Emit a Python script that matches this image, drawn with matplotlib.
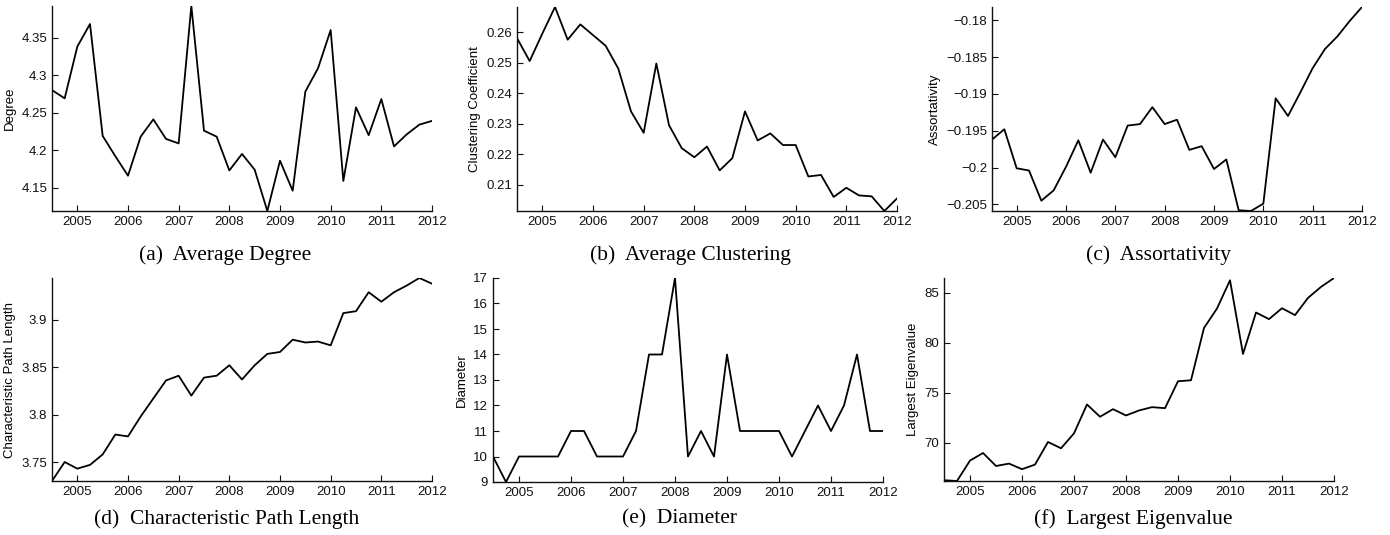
import numpy as np
import matplotlib
matplotlib.use('Agg')
import matplotlib.pyplot as plt
from matplotlib.ticker import FuncFormatter

# quarterly snapshots, mid 2004 to 2012
quarters = [2004.5, 2004.75, 2005.0, 2005.25, 2005.5, 2005.75, 2006.0, 2006.25,
            2006.5, 2006.75, 2007.0, 2007.25, 2007.5, 2007.75, 2008.0, 2008.25,
            2008.5, 2008.75, 2009.0, 2009.25, 2009.5, 2009.75, 2010.0, 2010.25,
            2010.5, 2010.75, 2011.0, 2011.25, 2011.5, 2011.75, 2012.0]
year_ticks = [2005, 2006, 2007, 2008, 2009, 2010, 2011, 2012]

degree = [4.280, 4.269, 4.338, 4.368, 4.219, 4.192, 4.166, 4.218,
          4.241, 4.215, 4.209, 4.392, 4.226, 4.218, 4.173, 4.195,
          4.174, 4.119, 4.186, 4.146, 4.278, 4.309, 4.360, 4.159,
          4.257, 4.220, 4.268, 4.205, 4.221, 4.234, 4.239]

clustering = [0.2580, 0.2505, 0.2595, 0.2682, 0.2575, 0.2625, 0.2590, 0.2555,
              0.2480, 0.2340, 0.2270, 0.2497, 0.2295, 0.2220, 0.2190, 0.2225,
              0.2147, 0.2187, 0.2340, 0.2245, 0.2268, 0.2230, 0.2230, 0.2127,
              0.2132, 0.2060, 0.2090, 0.2065, 0.2062, 0.2014, 0.2055]

assortativity = [-0.1962, -0.1948, -0.2001, -0.2004, -0.2045, -0.2031, -0.1999, -0.1963,
                 -0.2007, -0.1962, -0.1986, -0.1943, -0.1941, -0.1918, -0.1941, -0.1935,
                 -0.1976, -0.1971, -0.2002, -0.1989, -0.2058, -0.2059, -0.2049, -0.1906,
                 -0.1930, -0.1898, -0.1865, -0.1839, -0.1822, -0.1801, -0.1782]

path_length = [3.730, 3.750, 3.743, 3.747, 3.758, 3.779, 3.777, 3.798,
               3.817, 3.836, 3.841, 3.820, 3.839, 3.841, 3.852, 3.837,
               3.852, 3.864, 3.866, 3.879, 3.876, 3.877, 3.873, 3.907,
               3.909, 3.929, 3.919, 3.929, 3.936, 3.944, 3.938]

diameter = [10, 9, 10, 10, 10, 10, 11, 11,
            10, 10, 10, 11, 14, 14, 17, 10,
            11, 10, 14, 11, 11, 11, 11, 10,
            11, 12, 11, 12, 14, 11, 11]

eigenvalue = [66.28, 66.20, 68.24, 69.00, 67.70, 67.94, 67.38, 67.84,
              70.10, 69.47, 70.96, 73.85, 72.62, 73.38, 72.75, 73.25,
              73.58, 73.48, 76.17, 76.27, 81.50, 83.44, 86.26, 78.90,
              83.04, 82.38, 83.47, 82.78, 84.50, 85.60, 86.49]

panels = [
    (degree, 'Degree', '(a)', 'Average Degree', [4.15, 4.2, 4.25, 4.3, 4.35]),
    (clustering, 'Clustering Coefficient', '(b)', 'Average Clustering',
     [0.21, 0.22, 0.23, 0.24, 0.25, 0.26]),
    (assortativity, 'Assortativity', '(c)', 'Assortativity',
     [-0.205, -0.2, -0.195, -0.19, -0.185, -0.18]),
    (path_length, 'Characteristic Path Length', '(d)', 'Characteristic Path Length',
     [3.75, 3.8, 3.85, 3.9]),
    (diameter, 'Diameter', '(e)', 'Diameter', [9, 10, 11, 12, 13, 14, 15, 16, 17]),
    (eigenvalue, 'Largest Eigenvalue', '(f)', 'Largest Eigenvalue', [70, 75, 80, 85]),
]

# axes boxes in pixels: left, right, top, bottom
W, H = 1390, 535
boxes = [
    (52, 432, 6, 211), (517, 897, 7, 211), (992, 1362, 7, 211),
    (52, 432, 278, 481), (493, 883, 278, 482), (944, 1334, 278, 481),
]
caption_pos = [(225, 255), (690, 255), (1158, 255), (227, 519), (680, 519), (1133, 519)]

plt.rcParams['font.family'] = 'Liberation Sans'

fig = plt.figure(figsize=(W / 100, H / 100), dpi=100)


def fmt(v, pos):
    s = '%g' % round(v, 6)
    return s.replace('-', '\u2212')


for (vals, ylab, tag, cap, yt), (l, r, t, b), (cx, cy) in zip(panels, boxes, caption_pos):
    ax = fig.add_axes([l / W, 1 - b / H, (r - l) / W, (b - t) / H])
    ax.plot(quarters, vals, color='black', lw=1.3)
    ax.set_xlim(quarters[0], quarters[-1])
    ax.set_ylim(min(vals), max(vals))
    ax.set_xticks(year_ticks)
    ax.set_yticks(yt)
    ax.yaxis.set_major_formatter(FuncFormatter(fmt))
    ax.xaxis.set_major_formatter(FuncFormatter(lambda v, p: '%d' % v))
    ax.spines['top'].set_visible(False)
    ax.spines['right'].set_visible(False)
    for s in ['left', 'bottom']:
        ax.spines[s].set_linewidth(1.0)
        ax.spines[s].set_color('#111111')
    ax.tick_params(direction='in', length=4, width=0.8, labelsize=9.5,
                   colors='#111111', pad=3.5)
    ax.set_ylabel(ylab, fontsize=9.5, labelpad=4)
    fig.text(cx / W, 1 - cy / H, tag + '  ' + cap, ha='center', va='center',
             family='Liberation Serif', fontsize=15.5)

fig.savefig('out.png', dpi=100)
